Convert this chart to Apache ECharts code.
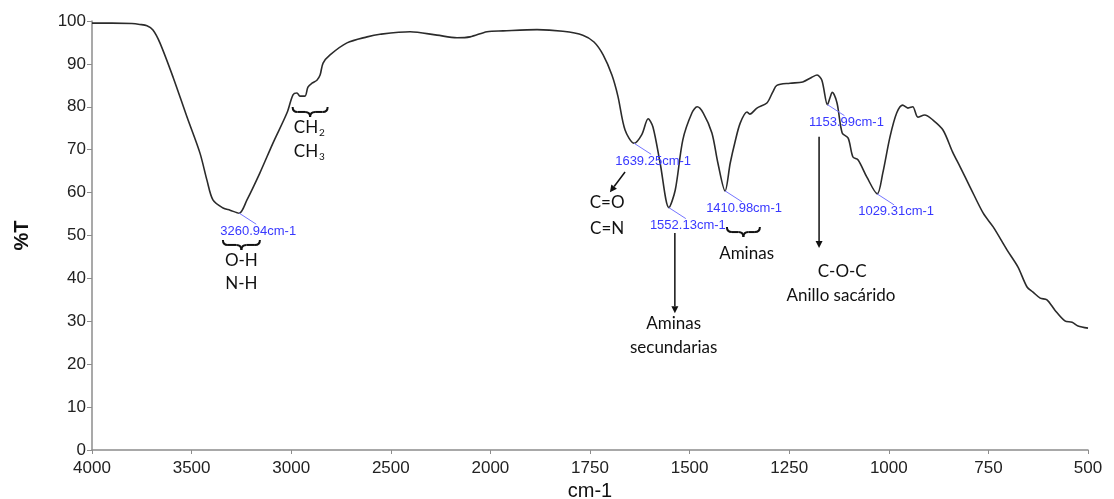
<!DOCTYPE html>
<html>
<head>
<meta charset="utf-8">
<script src="https://cdn.jsdelivr.net/npm/echarts@6/dist/echarts.min.js"></script>
<style>
  html, body { margin: 0; padding: 0; background: #fff; }
  #chart { width: 1114px; height: 499px; }
</style>
</head>
<body>
<div id="chart"></div>
<script>
// espectro FTIR, valores
const wavenumber = [4000, 3900, 3800, 3760, 3724, 3694, 3659, 3593, 3523, 3458, 3423, 3393, 3342, 3307, 3261,
  3222, 3157, 3091, 3021, 2991, 2971, 2956, 2931, 2916, 2896, 2871, 2855, 2840, 2805, 2720, 2619, 2554, 2403,
  2268, 2168, 2102, 2017, 1968, 1883, 1818, 1768, 1740, 1717, 1695, 1680, 1662, 1639, 1620, 1604, 1592, 1574,
  1552, 1536, 1517, 1494, 1481, 1466, 1444, 1429, 1411, 1398, 1386, 1373, 1356, 1349, 1331, 1306, 1291, 1281,
  1248, 1216, 1193, 1180, 1168, 1154, 1147, 1142, 1130, 1117, 1102, 1090, 1077, 1055, 1029, 1015, 997, 980,
  965, 952, 940, 927, 910, 889, 864, 840, 821, 796, 763, 738, 703, 676, 653, 638, 620, 603, 583, 558, 540, 525, 500];
const transmittance = [99.5, 99.5, 99.4, 99.2, 98.9, 97.9, 94.9, 86.9, 77.6, 69.2, 62.9, 58.3, 56.4, 55.9, 55.2,
  58.3, 64.6, 71.6, 78.6, 82.8, 83.2, 82.5, 82.5, 84.6, 85.5, 86.2, 87.4, 90.2, 92.1, 94.9, 96.3, 96.9, 97.5,
  96.7, 96.1, 96.3, 97.5, 97.7, 98.0, 97.6, 96.7, 95.1, 92.1, 87.4, 82.5, 74.6, 71.5, 73.5, 77.2, 75.3, 66.9,
  56.5, 60.6, 72.3, 78.6, 80.0, 78.6, 73.9, 66.9, 60.4, 66.9, 71.8, 76.2, 78.8, 78.3, 79.7, 80.9, 83.5, 85.0,
  85.5, 85.8, 86.9, 87.4, 86.2, 80.5, 82.3, 83.4, 80.9, 73.9, 72.7, 68.3, 67.6, 63.6, 59.7, 64.6, 73.0, 78.6,
  80.4, 79.7, 80.0, 77.6, 78.1, 76.9, 74.6, 69.5, 66.0, 61.3, 55.2, 52.0, 46.6, 42.7, 38.0, 36.8, 35.4, 35.0,
  32.6, 30.1, 29.8, 28.9, 28.4];

// picos marcados
const peakWavenumber = [3260.94, 1639.25, 1552.13, 1410.98, 1153.99, 1029.31];
const peakTransmittance = [55.2, 71.5, 56.5, 60.4, 80.5, 59.7];

// textos de asignacion
const noteText = ['O-H', 'N-H', 'CH', 'CH', 'C=O', 'C=N', 'Aminas', 'secundarias', 'Aminas', 'C-O-C', 'Anillo sacárido'];
const noteSub = ['', '', '2', '3', '', '', '', '', '', '', ''];
const noteWavenumber = [3250, 3250, 2890, 2890, 1707, 1707, 1540, 1540, 1357, 1117, 1120];
const noteTransmittance = [44.1, 38.7, 75.1, 69.5, 57.6, 51.7, 29.6, 23.8, 45.9, 41.5, 36.1];

// flechas [desde, hasta]
const arrowFrom = [[1662, 64.8], [1537, 50.6], [1175, 73.0]];
const arrowTo = [[1700, 60.1], [1537, 31.9], [1175, 47.1]];

// llaves
const braceWavenumber = [3250, 2905, 1365];
const braceTransmittance = [47.8, 78.8, 50.8];
const braceWidth = [37, 35, 33];

// eje x con cambio de escala en 2000 cm-1
const toT = (w) => (w >= 2000 ? (4000 - w) / 500 : 4 + (2000 - w) / 250);
const fromT = (t) => (t <= 4 ? 4000 - 500 * t : 2000 - 250 * (t - 4));

const chart = echarts.init(document.getElementById('chart'));

const axisFont = '"Liberation Sans", Arial, sans-serif';
const noteFont = 'Lato, "Noto Sans", sans-serif';

const option = {
  animation: false,
  grid: { left: 92, right: 26, top: 21, bottom: 49, outerBoundsMode: 'none' },
  xAxis: {
    type: 'value',
    min: 0,
    max: 10,
    interval: 1,
    name: 'cm-1',
    nameLocation: 'middle',
    nameGap: 28,
    nameTextStyle: { fontSize: 20, color: '#111', fontFamily: axisFont },
    axisLine: { lineStyle: { color: '#8c8c8c', width: 1.5 } },
    axisTick: { show: true, length: 4, lineStyle: { color: '#8c8c8c' } },
    axisLabel: {
      margin: 10,
      fontSize: 17,
      color: '#222',
      fontFamily: axisFont,
      formatter: (v) => String(Math.round(fromT(v)))
    },
    splitLine: { show: false }
  },
  yAxis: {
    type: 'value',
    min: 0,
    max: 100,
    interval: 10,
    name: '%T',
    nameLocation: 'middle',
    nameGap: 60,
    nameTextStyle: { fontSize: 20, fontWeight: 'bold', color: '#111', fontFamily: axisFont },
    axisLine: { show: true, lineStyle: { color: '#8c8c8c', width: 1.5 } },
    axisTick: { show: true, length: 5, lineStyle: { color: '#8c8c8c' } },
    axisLabel: { margin: 6, fontSize: 17, color: '#222', fontFamily: axisFont },
    splitLine: { show: false }
  },
  series: [
    {
      type: 'line',
      data: wavenumber.map((w, i) => [toT(w), transmittance[i]]),
      showSymbol: false,
      smooth: 0.3,
      lineStyle: { color: '#2b2b2b', width: 1.6 },
      z: 2
    },
    {
      // etiquetas de los picos
      type: 'custom',
      data: peakWavenumber.map((w, i) => [toT(w), peakTransmittance[i]]),
      z: 3,
      renderItem: (params, api) => {
        const p = api.coord([api.value(0), api.value(1)]);
        const w = peakWavenumber[params.dataIndex];
        return {
          type: 'group',
          children: [
            {
              type: 'line',
              shape: { x1: p[0], y1: p[1], x2: p[0] + 17, y2: p[1] + 11 },
              style: { stroke: '#7474ff', lineWidth: 1 }
            },
            {
              type: 'text',
              style: {
                text: w.toFixed(2) + 'cm-1',
                x: p[0] + 19,
                y: p[1] + 18,
                align: 'center',
                verticalAlign: 'middle',
                fontSize: 13,
                fontFamily: axisFont,
                fill: '#3838ff'
              }
            }
          ]
        };
      }
    },
    {
      // textos
      type: 'custom',
      data: noteWavenumber.map((w, i) => [toT(w), noteTransmittance[i]]),
      z: 3,
      renderItem: (params, api) => {
        const p = api.coord([api.value(0), api.value(1)]);
        const i = params.dataIndex;
        const base = { fontSize: 17, fontFamily: noteFont, fill: '#111', verticalAlign: 'middle' };
        if (noteSub[i]) {
          return {
            type: 'group',
            children: [
              { type: 'text', style: Object.assign({}, base, { text: noteText[i], x: p[0] + 5, y: p[1], align: 'right' }) },
              { type: 'text', style: Object.assign({}, base, { text: noteSub[i], x: p[0] + 6, y: p[1] + 5, align: 'left', fontSize: 10 }) }
            ]
          };
        }
        return { type: 'text', style: Object.assign({}, base, { text: noteText[i], x: p[0], y: p[1], align: 'center' }) };
      }
    },
    {
      // flechas
      type: 'custom',
      data: arrowFrom.map((f, i) => [toT(f[0]), f[1], toT(arrowTo[i][0]), arrowTo[i][1]]),
      encode: { x: [0, 2], y: [1, 3] },
      z: 3,
      renderItem: (params, api) => {
        const a = api.coord([api.value(0), api.value(1)]);
        const b = api.coord([api.value(2), api.value(3)]);
        const ang = Math.atan2(b[1] - a[1], b[0] - a[0]);
        const len = 7, half = 3.5;
        const bx = b[0] - len * Math.cos(ang), by = b[1] - len * Math.sin(ang);
        const nx = -Math.sin(ang) * half, ny = Math.cos(ang) * half;
        return {
          type: 'group',
          children: [
            { type: 'line', shape: { x1: a[0], y1: a[1], x2: bx, y2: by }, style: { stroke: '#111', lineWidth: 1.5 } },
            { type: 'polygon', shape: { points: [[b[0], b[1]], [bx + nx, by + ny], [bx - nx, by - ny]] }, style: { fill: '#111' } }
          ]
        };
      }
    },
    {
      // llaves
      type: 'custom',
      data: braceWavenumber.map((w, i) => [toT(w), braceTransmittance[i]]),
      z: 3,
      renderItem: (params, api) => {
        const p = api.coord([api.value(0), api.value(1)]);
        const W = braceWidth[params.dataIndex];
        const h = 5, r = 5;
        const x0 = p[0] - W / 2, x1 = p[0] + W / 2, cx = p[0], cy = p[1];
        const st = { stroke: '#111', lineWidth: 2, fill: null };
        return {
          type: 'group',
          children: [
            { type: 'bezierCurve', shape: { x1: x0, y1: cy - h, cpx1: x0, cpy1: cy, x2: x0 + r, y2: cy }, style: st },
            { type: 'line', shape: { x1: x0 + r, y1: cy, x2: cx - r, y2: cy }, style: st },
            { type: 'bezierCurve', shape: { x1: cx - r, y1: cy, cpx1: cx, cpy1: cy, x2: cx, y2: cy + h }, style: st },
            { type: 'bezierCurve', shape: { x1: cx, y1: cy + h, cpx1: cx, cpy1: cy, x2: cx + r, y2: cy }, style: st },
            { type: 'line', shape: { x1: cx + r, y1: cy, x2: x1 - r, y2: cy }, style: st },
            { type: 'bezierCurve', shape: { x1: x1 - r, y1: cy, cpx1: x1, cpy1: cy, x2: x1, y2: cy - h }, style: st }
          ]
        };
      }
    }
  ]
};

chart.setOption(option);
window.addEventListener('resize', chart.resize);
</script>
</body>
</html>
